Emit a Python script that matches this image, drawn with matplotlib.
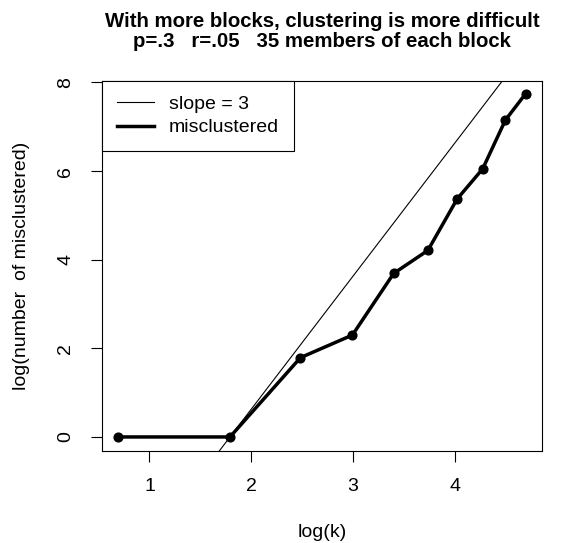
import numpy as np
import matplotlib
matplotlib.use("Agg")
import matplotlib.pyplot as plt
from matplotlib.lines import Line2D

# number of blocks k and log(number misclustered)
k_blocks = [2, 6, 12, 20, 30, 42, 56, 72, 90, 110]
log_misclustered = [0.0, 0.0, 1.79, 2.30, 3.69, 4.21, 5.37, 6.05, 7.15, 7.75]

# reference line: slope 3 through (log 6, 0)
ref_slope = 3
ref_anchor = (np.log(6), 0.0)

x_ticks = [1, 2, 3, 4]
y_ticks = [0, 2, 4, 6, 8]

title = ("With more blocks, clustering is more difficult\n"
         "p=.3   r=.05   35 members of each block")

plt.rcParams['font.family'] = ['Liberation Sans', 'DejaVu Sans']

x = np.log(k_blocks)

fig = plt.figure(figsize=(5.68, 5.43), dpi=100)
ax = fig.add_axes([0.1796, 0.17, 0.7746, 0.6814])

ax.axline(ref_anchor, slope=ref_slope, color='black', lw=0.8)
ax.plot(x, log_misclustered, color='black', lw=2.5, marker='o', ms=6.3)

ax.set_xlim(0.533, 4.86)
ax.set_ylim(-0.31, 8.04)
ax.set_xticks(x_ticks)
ax.set_yticks(y_ticks)
ax.tick_params(direction='out', length=7.9, width=0.8, labelsize=14, pad=12)
for lab in ax.get_yticklabels():
    lab.set_rotation(90)
    lab.set_va('center')
for s in ax.spines.values():
    s.set_linewidth(0.8)

ax.set_xlabel('log(k)', fontsize=14, labelpad=21)
ax.set_ylabel('log(number  of misclustered)', fontsize=14, labelpad=20)
ax.set_title(title, fontsize=14.7, fontweight='bold', pad=24, linespacing=1.1)

legend_elements = [
    Line2D([0], [0], color='black', lw=0.8, label='slope = 3'),
    Line2D([0], [0], color='black', lw=2.5, label='misclustered'),
]
leg = ax.legend(handles=legend_elements, loc='upper left', borderaxespad=0,
                fancybox=False, edgecolor='black', framealpha=1, fontsize=14,
                handlelength=1.9, handletextpad=0.8, borderpad=0.75,
                labelspacing=0.3)
leg.get_frame().set_linewidth(0.8)

fig.savefig('out.png', dpi=100)
